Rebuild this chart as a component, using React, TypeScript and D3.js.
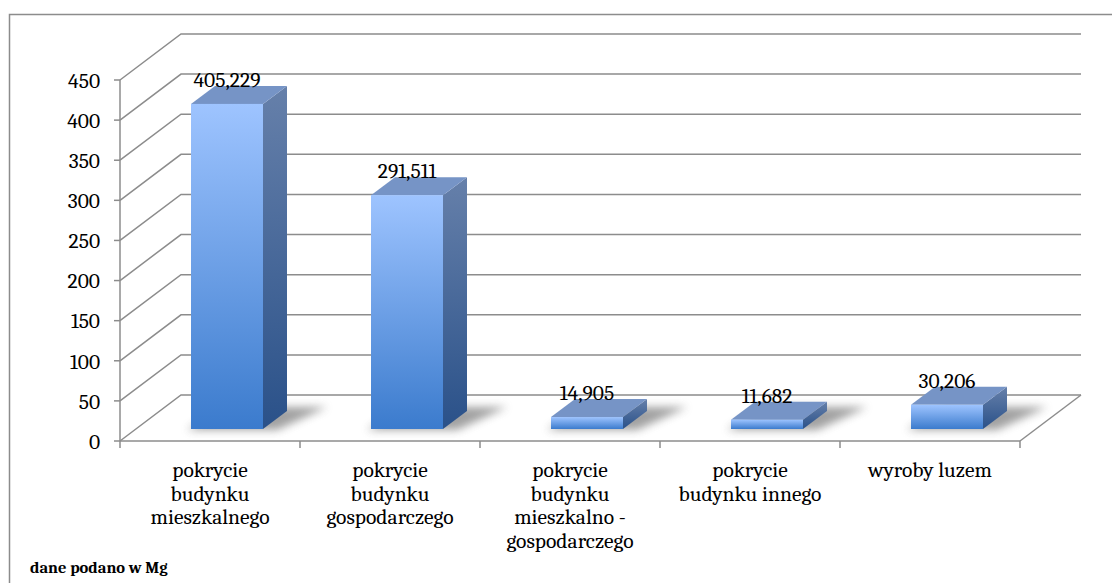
import * as d3 from "d3";

const categories = ["c1", "c2", "c3", "c4", "c5"];
const categoryLabels = [
  ["pokrycie", "budynku", "mieszkalnego"],
  ["pokrycie", "budynku", "gospodarczego"],
  ["pokrycie", "budynku", "mieszkalno -", "gospodarczego"],
  ["pokrycie", "budynku innego"],
  ["wyroby luzem"],
];
const values = [405.229, 291.511, 14.905, 11.682, 30.206];
const yTicks = [0, 50, 100, 150, 200, 250, 300, 350, 400, 450];
const footnote = "dane podano w Mg";

const width = 1112;
const height = 583;
const font = "Cambria, 'DejaVu Serif', serif";
const fontSize = 21.5;
const gridColor = "#8c8c8c";

// 3d offsets
const wall = { dx: 61, dy: -46 };
const front = { dx: 17, dy: -12 };
const depth = { dx: 24, dy: -18 };

const fmt = d3.formatLocale({ decimal: ",", thousands: " ", grouping: [3], currency: ["", ""] }).format(".3f");

const App = () => {
  const x = d3.scaleBand().domain(categories).range([120, 1020]).paddingInner(0.6).paddingOuter(0.3);
  const y = d3.scaleLinear().domain([0, 450]).range([441, 80]);
  const step = x.step();
  const [x0, x1] = x.range();
  const bw = x.bandwidth();

  return (
    <svg width={width} height={height} style={{ position: "absolute", left: 0, top: 0, background: "#fff" }}>
      <defs>
        <linearGradient id="frontGrad" x1="0" y1="0" x2="0" y2="1">
          <stop offset="0" stopColor="#9ec4ff" />
          <stop offset="1" stopColor="#3b7bcd" />
        </linearGradient>
        <linearGradient id="sideGrad" x1="0" y1="0" x2="0" y2="1">
          <stop offset="0" stopColor="#6680aa" />
          <stop offset="1" stopColor="#2a5189" />
        </linearGradient>
        <filter id="blur" x="-50%" y="-50%" width="200%" height="200%">
          <feGaussianBlur stdDeviation="4" />
        </filter>
      </defs>

      <rect x={9.5} y={14.5} width={width + 10} height={height + 10} fill="#fff" stroke="#8c8c8c" strokeWidth={1.5} />

      {/* walls and grid */}
      <g stroke={gridColor} strokeWidth={1.5} fill="none">
        {yTicks.map((t) => (
          <polyline
            key={t}
            points={`${x0},${y(t)} ${x0 + wall.dx},${y(t) + wall.dy} ${x1 + wall.dx},${y(t) + wall.dy}`}
          />
        ))}
        <line x1={x1} y1={y(0)} x2={x1 + wall.dx} y2={y(0) + wall.dy} />
        <line x1={x0} y1={y(0)} x2={x1} y2={y(0)} />
        <line x1={x0} y1={y(0)} x2={x0} y2={y(450)} />
        {yTicks.map((t) => (
          <line key={"t" + t} x1={x0 - 6} y1={y(t)} x2={x0} y2={y(t)} />
        ))}
        {d3.range(categories.length + 1).map((i) => (
          <line key={"c" + i} x1={x0 + i * step} y1={y(0)} x2={x0 + i * step} y2={y(0) + 7} />
        ))}
      </g>

      {/* shadows */}
      <g filter="url(#blur)" fill="#6f6f6f" opacity={0.65}>
        {categories.map((c) => {
          const bx = (x(c) ?? 0) + front.dx;
          const by = y(0) + front.dy;
          return (
            <polygon
              key={c}
              points={`${bx - 4},${by + 1} ${bx + bw + 14},${by + 1} ${bx + bw + depth.dx + 40},${by + depth.dy - 4} ${bx + depth.dx + 10},${by + depth.dy - 4}`}
            />
          );
        })}
      </g>

      {/* bars */}
      {categories.map((c, i) => {
        const bx = (x(c) ?? 0) + front.dx;
        const by = y(0) + front.dy;
        const ty = y(values[i]) + front.dy;
        return (
          <g key={c}>
            <polygon
              points={`${bx + bw},${ty} ${bx + bw + depth.dx},${ty + depth.dy} ${bx + bw + depth.dx},${by + depth.dy} ${bx + bw},${by}`}
              fill="url(#sideGrad)"
            />
            <polygon
              points={`${bx},${ty} ${bx + depth.dx},${ty + depth.dy} ${bx + bw + depth.dx},${ty + depth.dy} ${bx + bw},${ty}`}
              fill="#7694c6"
            />
            <rect x={bx} y={ty} width={bw} height={by - ty} fill="url(#frontGrad)" />
            <text
              x={bx + bw / 2}
              y={ty + depth.dy + 1}
              textAnchor="middle"
              fontFamily={font}
              fontSize={fontSize}
              fill="#000"
            >
              {fmt(values[i])}
            </text>
          </g>
        );
      })}

      {/* y tick labels */}
      {yTicks.map((t) => (
        <text key={t} x={x0 - 20} y={y(t)} dy="0.36em" textAnchor="end" fontFamily={font} fontSize={fontSize} fill="#000">
          {t}
        </text>
      ))}

      {/* category labels */}
      {categories.map((c, i) => (
        <text key={c} textAnchor="middle" fontFamily={font} fontSize={fontSize} fill="#000">
          {categoryLabels[i].map((line, j) => (
            <tspan key={j} x={(x(c) ?? 0) + bw / 2} y={477 + j * 23.7}>
              {line}
            </tspan>
          ))}
        </text>
      ))}

      <text x={30} y={573} fontFamily={font} fontSize={16.5} fontWeight="bold" fill="#000">
        {footnote}
      </text>
    </svg>
  );
};

export default App;
